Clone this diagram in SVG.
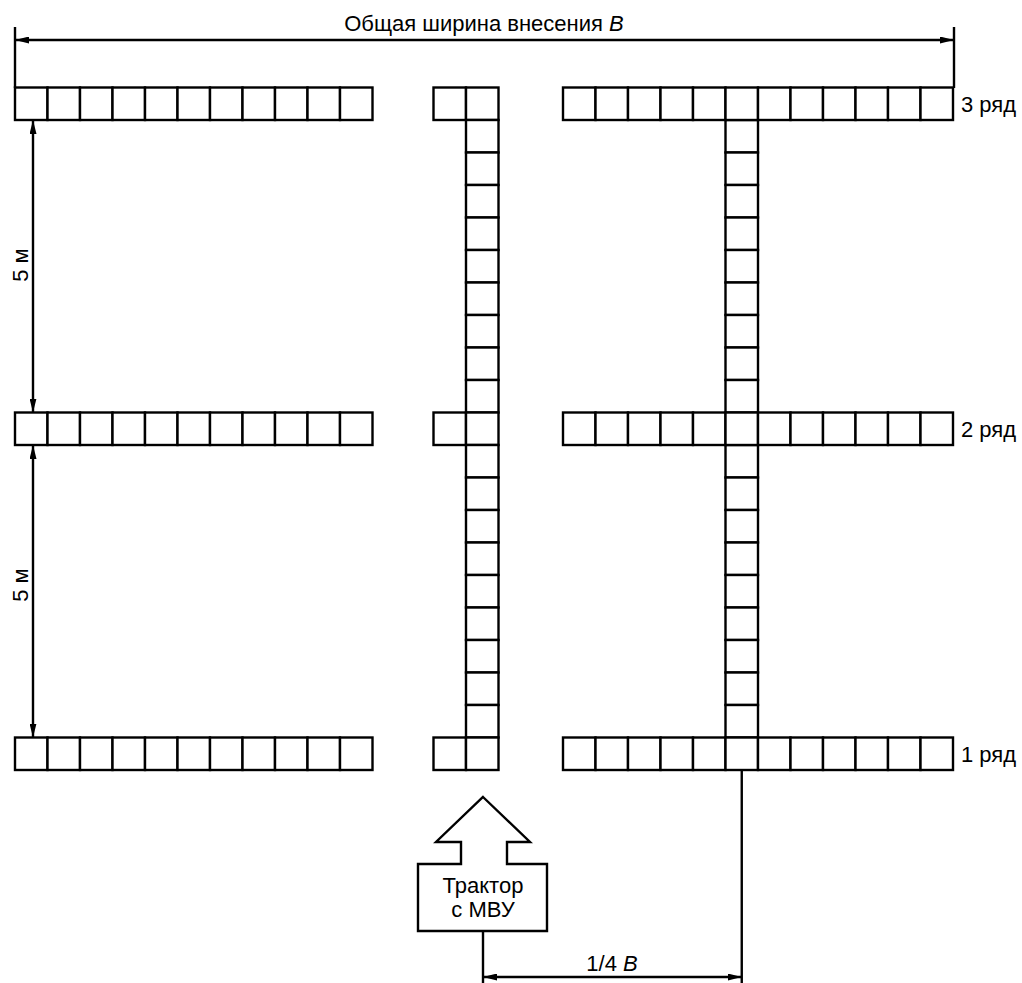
<svg xmlns="http://www.w3.org/2000/svg" xmlns:xlink="http://www.w3.org/1999/xlink" width="1022" height="983" viewBox="0 0 1022 983">
<style>
.cell{fill:#fff;stroke:#000;stroke-width:2.4}
.ln{stroke:#000;stroke-width:2.4;fill:none}
.dim{stroke:#000;stroke-width:2.4;fill:none;marker-start:url(#ar);marker-end:url(#ar)}
.t{font-family:"Liberation Sans",Arial,sans-serif;font-size:22px;fill:#000}
</style>
<defs>
<marker id="ar" viewBox="0 0 14 7" refX="14" refY="3.5" markerUnits="userSpaceOnUse" markerWidth="14" markerHeight="7" orient="auto-start-reverse">
<path d="M0,0 L14,3.5 L0,7 z" fill="#000"/>
</marker>
<rect id="c" class="cell" width="32.5" height="32.5"/>
</defs>
<rect width="1022" height="983" fill="#fff"/>
<g id="connectors">
<line class="ln" x1="15" y1="27" x2="15" y2="88"/>
<line class="ln" x1="954" y1="27" x2="954" y2="88"/>
<line class="dim" x1="15" y1="40" x2="954" y2="40"/>
<line class="dim" x1="33" y1="120" x2="33" y2="412.5"/>
<line class="dim" x1="33" y1="445" x2="33" y2="737.5"/>
<line class="ln" x1="741.75" y1="770" x2="741.75" y2="983"/>
<line class="ln" x1="483" y1="931" x2="483" y2="983"/>
<line class="dim" x1="483" y1="977" x2="741.75" y2="977"/>
</g>
<g id="left-row3">
<use href="#c" x="15" y="87.5"/><use href="#c" x="47.5" y="87.5"/><use href="#c" x="80" y="87.5"/><use href="#c" x="112.5" y="87.5"/><use href="#c" x="145" y="87.5"/><use href="#c" x="177.5" y="87.5"/><use href="#c" x="210" y="87.5"/><use href="#c" x="242.5" y="87.5"/><use href="#c" x="275" y="87.5"/><use href="#c" x="307.5" y="87.5"/><use href="#c" x="340" y="87.5"/>
</g>
<g id="left-row2">
<use href="#c" x="15" y="412.5"/><use href="#c" x="47.5" y="412.5"/><use href="#c" x="80" y="412.5"/><use href="#c" x="112.5" y="412.5"/><use href="#c" x="145" y="412.5"/><use href="#c" x="177.5" y="412.5"/><use href="#c" x="210" y="412.5"/><use href="#c" x="242.5" y="412.5"/><use href="#c" x="275" y="412.5"/><use href="#c" x="307.5" y="412.5"/><use href="#c" x="340" y="412.5"/>
</g>
<g id="left-row1">
<use href="#c" x="15" y="737.5"/><use href="#c" x="47.5" y="737.5"/><use href="#c" x="80" y="737.5"/><use href="#c" x="112.5" y="737.5"/><use href="#c" x="145" y="737.5"/><use href="#c" x="177.5" y="737.5"/><use href="#c" x="210" y="737.5"/><use href="#c" x="242.5" y="737.5"/><use href="#c" x="275" y="737.5"/><use href="#c" x="307.5" y="737.5"/><use href="#c" x="340" y="737.5"/>
</g>
<g id="middle-column">
<use href="#c" x="433.5" y="87.5"/><use href="#c" x="433.5" y="412.5"/><use href="#c" x="433.5" y="737.5"/>
<use href="#c" x="466" y="87.5"/>
<use href="#c" x="466" y="120"/><use href="#c" x="466" y="152.5"/><use href="#c" x="466" y="185"/><use href="#c" x="466" y="217.5"/><use href="#c" x="466" y="250"/><use href="#c" x="466" y="282.5"/><use href="#c" x="466" y="315"/><use href="#c" x="466" y="347.5"/><use href="#c" x="466" y="380"/>
<use href="#c" x="466" y="412.5"/>
<use href="#c" x="466" y="445"/><use href="#c" x="466" y="477.5"/><use href="#c" x="466" y="510"/><use href="#c" x="466" y="542.5"/><use href="#c" x="466" y="575"/><use href="#c" x="466" y="607.5"/><use href="#c" x="466" y="640"/><use href="#c" x="466" y="672.5"/><use href="#c" x="466" y="705"/>
<use href="#c" x="466" y="737.5"/>
</g>
<g id="right-column">
<use href="#c" x="725.5" y="120"/><use href="#c" x="725.5" y="152.5"/><use href="#c" x="725.5" y="185"/><use href="#c" x="725.5" y="217.5"/><use href="#c" x="725.5" y="250"/><use href="#c" x="725.5" y="282.5"/><use href="#c" x="725.5" y="315"/><use href="#c" x="725.5" y="347.5"/><use href="#c" x="725.5" y="380"/>
<use href="#c" x="725.5" y="445"/><use href="#c" x="725.5" y="477.5"/><use href="#c" x="725.5" y="510"/><use href="#c" x="725.5" y="542.5"/><use href="#c" x="725.5" y="575"/><use href="#c" x="725.5" y="607.5"/><use href="#c" x="725.5" y="640"/><use href="#c" x="725.5" y="672.5"/><use href="#c" x="725.5" y="705"/>
</g>
<g id="right-row3">
<use href="#c" x="563" y="87.5"/><use href="#c" x="595.5" y="87.5"/><use href="#c" x="628" y="87.5"/><use href="#c" x="660.5" y="87.5"/><use href="#c" x="693" y="87.5"/><use href="#c" x="725.5" y="87.5"/><use href="#c" x="758" y="87.5"/><use href="#c" x="790.5" y="87.5"/><use href="#c" x="823" y="87.5"/><use href="#c" x="855.5" y="87.5"/><use href="#c" x="888" y="87.5"/><use href="#c" x="920.5" y="87.5"/>
</g>
<g id="right-row2">
<use href="#c" x="563" y="412.5"/><use href="#c" x="595.5" y="412.5"/><use href="#c" x="628" y="412.5"/><use href="#c" x="660.5" y="412.5"/><use href="#c" x="693" y="412.5"/><use href="#c" x="725.5" y="412.5"/><use href="#c" x="758" y="412.5"/><use href="#c" x="790.5" y="412.5"/><use href="#c" x="823" y="412.5"/><use href="#c" x="855.5" y="412.5"/><use href="#c" x="888" y="412.5"/><use href="#c" x="920.5" y="412.5"/>
</g>
<g id="right-row1">
<use href="#c" x="563" y="737.5"/><use href="#c" x="595.5" y="737.5"/><use href="#c" x="628" y="737.5"/><use href="#c" x="660.5" y="737.5"/><use href="#c" x="693" y="737.5"/><use href="#c" x="725.5" y="737.5"/><use href="#c" x="758" y="737.5"/><use href="#c" x="790.5" y="737.5"/><use href="#c" x="823" y="737.5"/><use href="#c" x="855.5" y="737.5"/><use href="#c" x="888" y="737.5"/><use href="#c" x="920.5" y="737.5"/>
</g>
<g id="tractor">
<path class="ln" d="M483,797 L530,842 L507,842 L507,864 L547,864 L547,931 L418,931 L418,864 L461,864 L461,842 L436,842 Z"/>
<text class="t" x="483" y="893" text-anchor="middle">Трактор</text>
<text class="t" x="483" y="917" text-anchor="middle">с МВУ</text>
</g>
<g id="labels">
<text class="t" x="484" y="31" text-anchor="middle">Общая ширина внесения <tspan font-style="italic">B</tspan></text>
<text class="t" x="961" y="112">3 ряд</text>
<text class="t" x="961" y="437">2 ряд</text>
<text class="t" x="961" y="762">1 ряд</text>
<text class="t" transform="translate(28,265) rotate(-90)" text-anchor="middle">5 м</text>
<text class="t" transform="translate(28,585) rotate(-90)" text-anchor="middle">5 м</text>
<text class="t" x="612" y="971" text-anchor="middle">1/4 <tspan font-style="italic">B</tspan></text>
</g>
</svg>
